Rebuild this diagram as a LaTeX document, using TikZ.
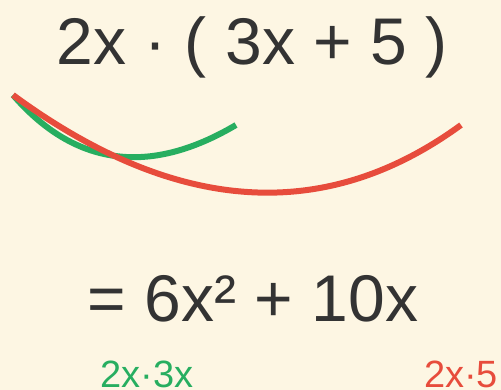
\documentclass[tikz,border=0pt]{standalone}
\usepackage{fontspec}
\setmainfont{Liberation Sans}
\definecolor{bg}{HTML}{FDF6E3}
\definecolor{ink}{HTML}{333333}
\definecolor{grn}{HTML}{27AE60}
\definecolor{rd}{HTML}{E74C3C}
\tikzset{
  big/.style={text=ink, font=\fontsize{66}{70}\selectfont, inner sep=0pt, anchor=base},
  lbl/.style={font=\fontsize{38}{42}\selectfont, inner sep=0pt, anchor=base},
  arcline/.style={line width=6pt, line cap=butt}
}
\begin{document}
\begin{tikzpicture}[x=1pt,y=-1pt]
\fill[bg] (0,0) rectangle (501,390);
\useasboundingbox (0,0) rectangle (501,390);
\node[big] (expr) at (252,65) {2x · ( 3x + 5 )};
\coordinate (s) at (13,95);
\coordinate (g) at (236,125);
\coordinate (r) at (461,125);
\draw[arcline, grn] (s) .. controls (74.7,166.3) and (149.3,176.3) .. (g);
\draw[arcline, rd] (s) .. controls (175.7,214.3) and (325,224.3) .. (r);
\node[big] (res) at (253,321) {= 6x² + 10x};
\node[lbl, text=grn] (lg) at (147,387) {2x·3x};
\node[lbl, text=rd] (lr) at (461,387) {2x·5};
\end{tikzpicture}
\end{document}
